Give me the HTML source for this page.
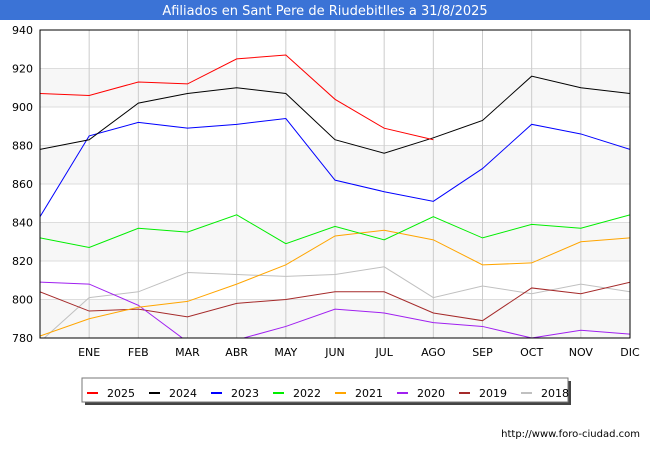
<!DOCTYPE html>
<html><head><meta charset="utf-8"><style>
body{margin:0;background:#fff;font-family:"Liberation Sans","DejaVu Sans",sans-serif}
</style></head><body>
<svg width="650" height="450" id="c" xmlns="http://www.w3.org/2000/svg">
<rect x="0" y="0" width="650" height="20" fill="#3b73d6"/>
<text x="325" y="15" fill="#fff" font-size="13" text-anchor="middle" font-family="DejaVu Sans, sans-serif">Afiliados en Sant Pere de Riudebitlles a 31/8/2025</text>
<defs><clipPath id="pc"><rect x="40" y="30" width="590" height="308"/></clipPath></defs>
<g id="grid"></g>
<g id="series" clip-path="url(#pc)"></g>
<rect x="40" y="30" width="590" height="308" fill="none" stroke="#000" stroke-width="1"/>
<g id="axes"></g>
<g id="legend"></g>
<text x="640" y="437" font-size="10" text-anchor="end" font-family="DejaVu Sans, sans-serif">http://www.foro-ciudad.com</text>
</svg>
<script>
const months=["","ENE","FEB","MAR","ABR","MAY","JUN","JUL","AGO","SEP","OCT","NOV","DIC"];
const yTicks=[780,800,820,840,860,880,900,920,940];
const years=["2025","2024","2023","2022","2021","2020","2019","2018"];
const colors=["#ff0000","#000000","#0000ff","#00ee00","#ffa500","#a020f0","#a52a2a","#c0c0c0"];
const s2025=[907,906,913,912,925,927,904,889,883];
const s2024=[878,883,902,907,910,907,883,876,884,893,916,910,907];
const s2023=[843,885,892,889,891,894,862,856,851,868,891,886,878];
const s2022=[832,827,837,835,844,829,838,831,843,832,839,837,844];
const s2021=[781,790,796,799,808,818,833,836,831,818,819,830,832];
const s2020=[809,808,797,778,779,786,795,793,788,786,780,784,782];
const s2019=[804,794,795,791,798,800,804,804,793,789,806,803,809];
const s2018=[778,801,804,814,813,812,813,817,801,807,803,808,804];
const allSeries=[s2025,s2024,s2023,s2022,s2021,s2020,s2019,s2018];
const NS="http://www.w3.org/2000/svg";
const X=i=>40+i*(590/12);
const Y=v=>338-(v-780)*(308/160);
function mk(t,a,p){const e=document.createElementNS(NS,t);for(const k in a)e.setAttribute(k,a[k]);p.appendChild(e);return e;}
const grid=document.getElementById('grid'),axes=document.getElementById('axes');
for(let i=0;i<yTicks.length-1;i++){
  if(i%2===0){const r=mk('rect',{x:40,y:Y(yTicks[i+1]),width:590,height:Y(yTicks[i])-Y(yTicks[i+1]),fill:'#f7f7f7'},grid);
  
  }
}
yTicks.forEach(v=>{
  const l=mk('line',{x1:40,x2:630,y1:Y(v),y2:Y(v),stroke:'#dddddd'},grid);
  
  
  const t=mk('text',{x:33,y:Y(v)+4,'font-size':11,'text-anchor':'end','font-family':'DejaVu Sans, sans-serif'},axes);
  t.textContent=v;
  
  
});
months.forEach((m,i)=>{
  const l=mk('line',{x1:X(i),x2:X(i),y1:30,y2:338,stroke:'#cccccc'},grid);
  
  
  if(m){const t=mk('text',{x:X(i),y:356,'font-size':11,'text-anchor':'middle','font-family':'DejaVu Sans, sans-serif'},axes);
  t.textContent=m;
  
  }
});
const sg=document.getElementById('series');
for(let k=allSeries.length-1;k>=0;k--){
  const pts=allSeries[k].map((v,i)=>X(i)+','+Y(v)).join(' ');
  const p=mk('polyline',{points:pts,fill:'none',stroke:colors[k],'stroke-width':1},sg);
  
  
}
const lg=document.getElementById('legend');
const sh=mk('rect',{x:85,y:381,width:486,height:24,fill:'#444'},lg);


const box=mk('rect',{x:82,y:378,width:486,height:24,fill:'#fff',stroke:'#777'},lg);


years.forEach((y,k)=>{
  const x0=87+k*62;
  const l=mk('line',{x1:x0,x2:x0+11,y1:393,y2:393,stroke:colors[k],'stroke-width':2},lg);
  
  
  const t=mk('text',{x:x0+20,y:397,'font-size':11,'font-family':'DejaVu Sans, sans-serif'},lg);
  t.textContent=y;
  
  
});
</script>
</body></html>
